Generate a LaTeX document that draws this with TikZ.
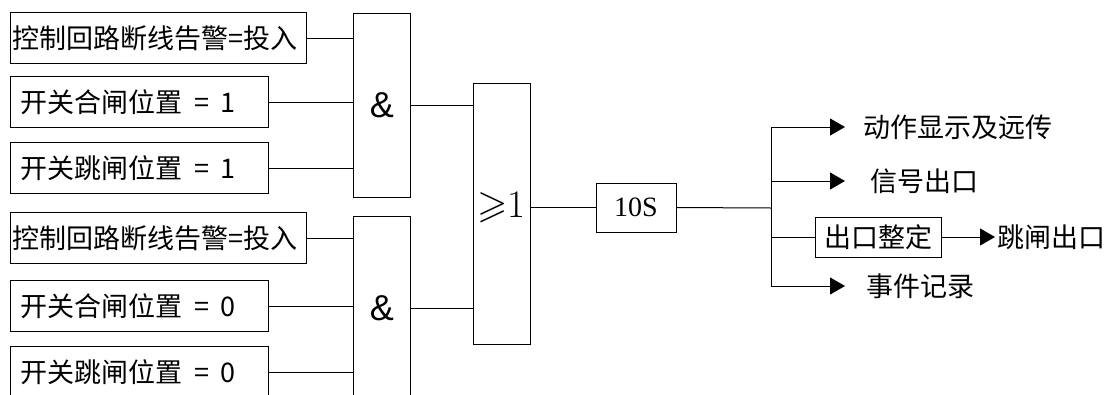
\documentclass[tikz,border=0pt]{standalone}
\usepackage{amssymb}
\usepackage{fontspec}
\newfontfamily\cjk{Noto Sans CJK SC}
\newfontfamily\sansfnt{Liberation Sans}
\newfontfamily\seriffnt{Liberation Serif}
\usetikzlibrary{arrows.meta}
\tikzset{
  box/.style={draw, anchor=north west, minimum height=51pt, inner ysep=0pt, align=left,
              font=\cjk\fontsize{27}{30}\selectfont},
  widebox/.style={box, text width=292pt, inner xsep=2pt},
  narrowbox/.style={box, text width=238pt, inner xsep=10pt},
  gate/.style={draw, anchor=north west, minimum width=57pt, inner sep=0pt},
  amp/.style={font=\sansfnt\fontsize{36}{38}\selectfont},
  lbl/.style={anchor=west, inner sep=0pt, font=\cjk\fontsize{27}{30}\selectfont},
  arr/.style={-{Triangle[length=15pt,width=17pt]}},
}
\newcommand{\eqv}[1]{\hspace{12pt}=\hspace{11pt}#1}
\begin{document}
\begin{tikzpicture}[x=1pt,y=-1pt,line width=1pt]
\useasboundingbox (0,0) rectangle (1113,394);
\clip (0,0) rectangle (1113,394);
% inputs
\node[widebox]   (b1) at (10,12)  {控制回路断线告警=投入};
\node[narrowbox] (b2) at (10,76)  {开关合闸位置\eqv{1}};
\node[narrowbox] (b3) at (10,142) {开关跳闸位置\eqv{1}};
\node[widebox]   (b4) at (10,212) {控制回路断线告警=投入};
\node[narrowbox] (b5) at (10,280) {开关合闸位置\eqv{0}};
\node[narrowbox] (b6) at (10,346) {开关跳闸位置\eqv{0}};
% gates
\node[gate, minimum height=184pt, amp] (a1) at (353,13) {\&};
\node[gate, minimum height=184pt, amp] (a2) at (353,216) {\&};
\node[gate, minimum height=261pt] (or) at (473,83) {};
\node[inner sep=0pt, font=\fontsize{39}{41}\selectfont] (orl) at (501.5,207) {$\geqslant$1};
% timer
\node[draw, minimum width=80pt, minimum height=49pt, inner sep=0pt,
      font=\seriffnt\fontsize{28}{30}\selectfont] (t) at (636,207.5) {10S};
% input connectors
\foreach \b/\g in {b1/a1,b2/a1,b3/a1,b4/a2,b5/a2,b6/a2}
  \draw (\b.east) -- (\b.east -| \g.west);
\draw (a1.east) -- (a1.east -| or.west);
\draw (a2.east) -- (a2.east -| or.west);
\draw (t.west -| or.east) -- (t.west);
% branch
\coordinate (br) at (771,208);
\coordinate (btop) at (771,127);
\coordinate (bsig) at (771,181);
\coordinate (bbot) at (771,286);
\draw (t.east) -- (br);
\draw (btop) -- (bbot);
% outputs
\node[draw, minimum width=126pt, minimum height=40pt, inner sep=0pt,
      font=\cjk\fontsize{27}{30}\selectfont] (ze) at (878,237) {出口整定};
\coordinate (e1) at (845,127);
\coordinate (e2) at (845,181);
\coordinate (e3) at (845,286);
\coordinate (e4) at (995,237);
\draw[arr] (btop) -- (e1);
\draw[arr] (bsig) -- (e2);
\draw[arr] (bbot) -- (e3);
\draw (br |- ze.west) -- (ze.west);
\draw[arr] (ze.east) -- (e4);
\node[lbl] (o1) at (863,127) {动作显示及远传};
\node[lbl] (o2) at (870,181) {信号出口};
\node[lbl] (o3) at (866,286) {事件记录};
\node[lbl] (o4) at (997,237) {跳闸出口};
\end{tikzpicture}
\end{document}
